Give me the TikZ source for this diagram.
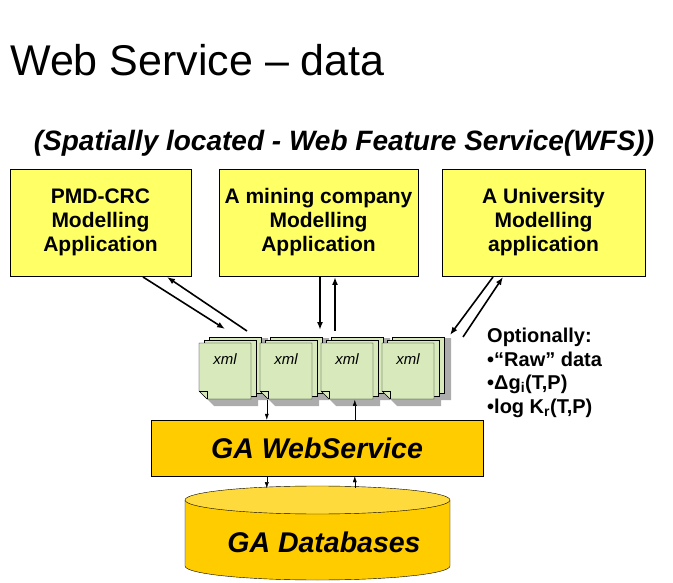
\documentclass[tikz,border=0pt]{standalone}
\usepackage{fontspec}
\setmainfont{Liberation Sans}
\usetikzlibrary{arrows.meta, positioning}
\definecolor{appyellow}{RGB}{255,255,102}
\definecolor{xmlgreen}{RGB}{216,234,188}
\definecolor{wsorange}{RGB}{255,204,0}
\definecolor{dbtop}{RGB}{255,218,60}

\begin{document}
\begin{tikzpicture}[x=1pt, y=-1pt,
                app box/.style={draw=black, fill=appyellow, minimum width=181pt, minimum height=107pt, align=center, font=\fontsize{21}{24}\selectfont\bfseries},
                page/.style={draw=black, fill=xmlgreen, minimum width=52pt, minimum height=56pt, inner sep=0pt},
                link/.style={line width=1.6pt, -{Latex[length=8pt, width=6pt]}},
                small link/.style={thin, -{Latex[length=6pt, width=4pt]}}
]
    \useasboundingbox (0,0) rectangle (673,583);

    % Titles
        \node[anchor=base west, inner sep=0pt, font=\fontsize{43}{46}\selectfont] (title) at (10,76) {Web Service – data};
        \node[font=\fontsize{28}{30}\selectfont\bfseries\itshape] (sub) at (344,143) {(Spatially located - Web Feature Service(WFS))};

    % Applications
        \node[app box] (pmd) at (100.5,222.5) {PMD-CRC\\Modelling\\Application};
        \node[app box, minimum width=199pt] (mine) at (318.5,222.5) {A mining company\\Modelling\\Application};
        \node[app box, minimum width=203pt] (uni) at (543.5,222.5) {A University\\Modelling\\application};

    % xml stacks
        \foreach \x in {225, 286, 347, 408}
            \fill[gray!65] (\x-19,344) -- (\x-9,344) -- (\x-9,338) -- (\x+43,338) -- (\x+43,400) -- (\x+33,400) -- (\x+33,406) -- (\x-11,406) -- (\x-19,398) -- cycle;
        \foreach \i/\x in {1/225, 2/286, 3/347, 4/408} {
            \node[page] (b\i) at (\x+10,365) {};
            \node[page] (m\i) at (\x+5,368) {};
            \fill[xmlgreen, draw=black] (\x-26,343) -- (\x+26,343) -- (\x+26,399) -- (\x-18,399) -- (\x-26,391) -- cycle;
            \draw (\x-26,391) -- (\x-18,391) -- (\x-18,399);
            \node[font=\fontsize{15}{16}\selectfont\itshape] (x\i) at (\x,359) {xml};
        }
        \coordinate (pa) at (225,329);
        \coordinate (pb) at (247,331);
        \coordinate (ma) at (320,330);
        \coordinate (mb) at (335,331);
        \coordinate (ua) at (450,335);
        \coordinate (ub) at (463,337);

    % Connectors to the applications
        \draw[link] (143,277) -- (pa);
        \draw[link] (pb) -- (167,277);
        \draw[link] (320,277) -- (ma);
        \draw[link] (mb) -- (335,277);
        \draw[link] (493,277) -- (ua);
        \draw[link] (ub) -- (503,277);

    % Web service and databases
        \node[draw=black, fill=wsorange, minimum width=332pt, minimum height=56pt, font=\fontsize{28.5}{30}\selectfont\bfseries\itshape] (ws) at (317,448) {GA WebService};
        \fill[wsorange, draw=black] (185,500) -- (185,566) arc[start angle=180, end angle=360, x radius=132.5pt, y radius=14pt] -- (450,500);
        \fill[dbtop, draw=black] (317.5,500) ellipse[x radius=132.5pt, y radius=14pt];
        \node[font=\fontsize{28.5}{30}\selectfont\bfseries\itshape] (db) at (324,542) {GA Databases};

        \draw[small link] ([xshift=116pt, yshift=20pt]ws.north west) -- ([xshift=116pt]ws.north west);
        \draw[small link] ([xshift=204pt]ws.north west) -- ([xshift=204pt, yshift=20pt]ws.north west);
        \draw[small link] ([xshift=116pt]ws.south west) -- ([xshift=116pt, yshift=-12pt]ws.south west);
        \draw[small link] ([xshift=204pt, yshift=-12pt]ws.south west) -- ([xshift=204pt]ws.south west);

    % Notes
        \node[anchor=north west, align=left, inner sep=0pt, font=\fontsize{20}{23.5}\selectfont\bfseries] (note) at (487,328)
            {Optionally:\\•“Raw” data\\•Δg\textsubscript{i}(T,P)\\•log K\textsubscript{r}(T,P)};
\end{tikzpicture}
\end{document}
